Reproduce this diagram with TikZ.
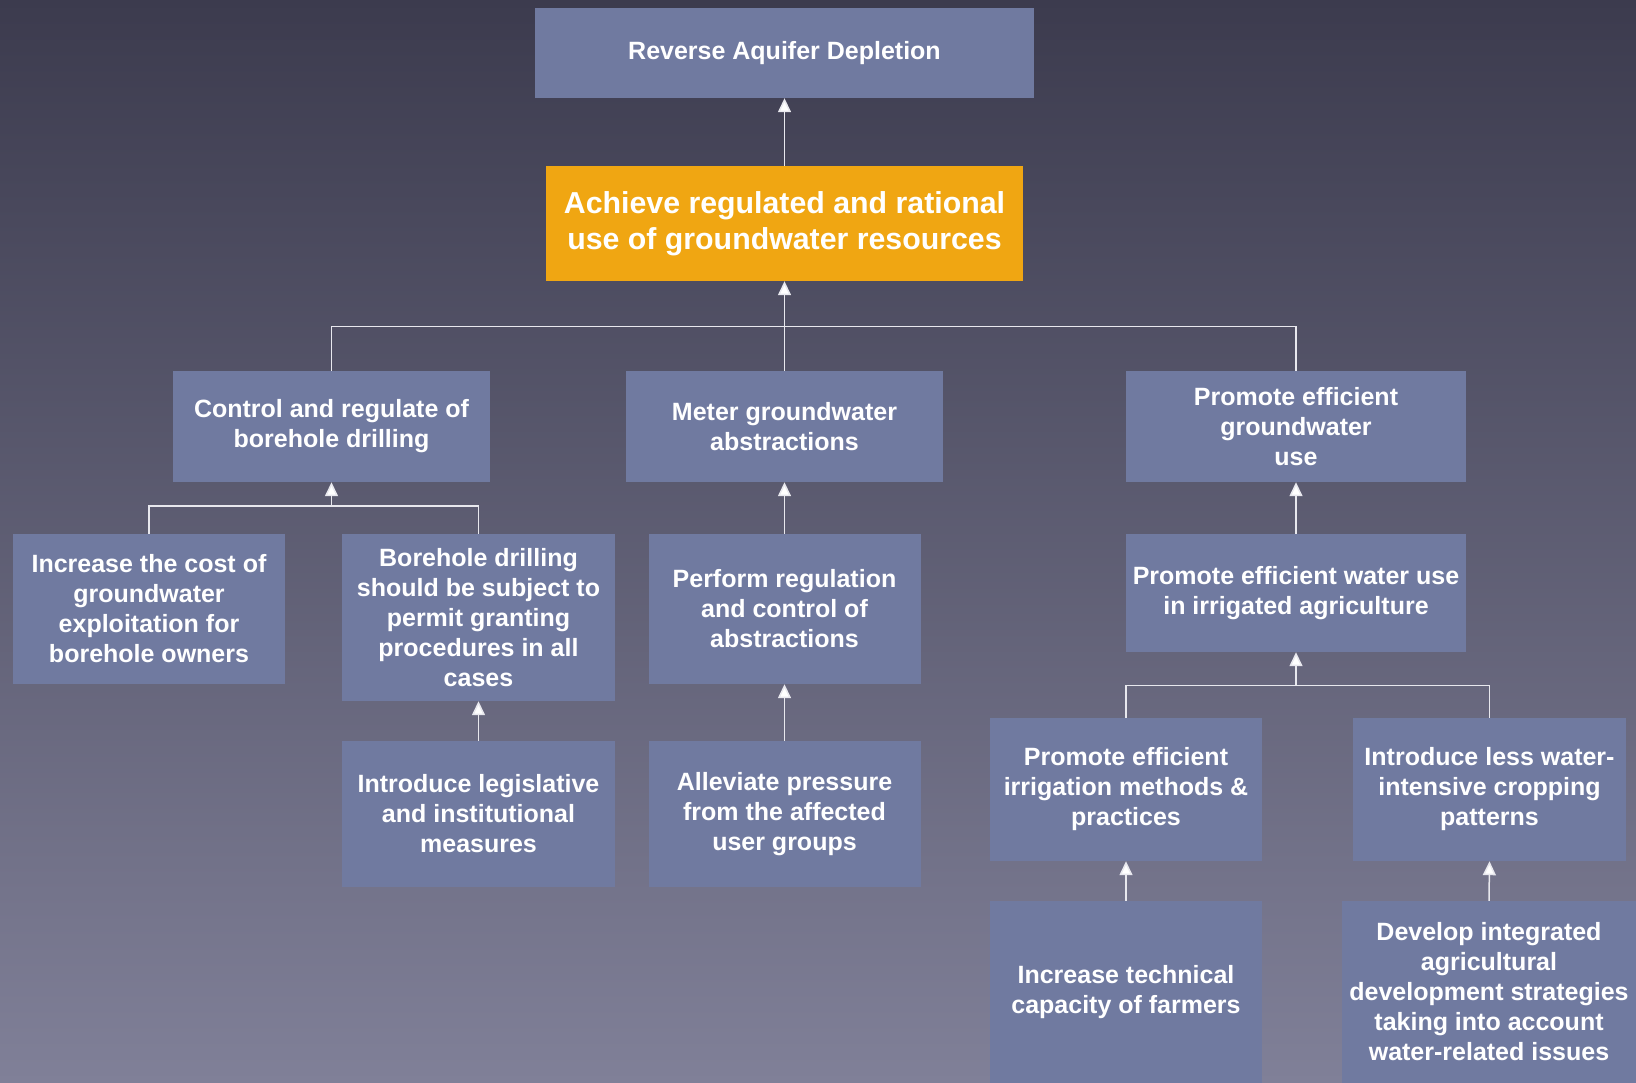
\documentclass[tikz,border=0pt]{standalone}
\usepackage{fontspec}
\setmainfont{Liberation Sans}
\usetikzlibrary{arrows.meta}
\definecolor{bgtop}{RGB}{60,59,78}
\definecolor{bgbot}{RGB}{128,128,152}
\definecolor{boxc}{RGB}{112,122,160}
\definecolor{orng}{RGB}{240,166,18}
\definecolor{linec}{RGB}{232,232,238}
\begin{document}
\begin{tikzpicture}[x=1pt,y=-1pt,
  box/.style={fill=boxc, text=white, align=center, inner sep=0pt,
    font=\bfseries\fontsize{25}{30}\selectfont},
  goal/.style={fill=orng, text=white, align=center, inner sep=0pt,
    font=\bfseries\fontsize{30.3}{36.5}\selectfont},
  conn/.style={draw=linec, line width=1.5pt},
  arr/.style={conn, -{Triangle[width=13pt,length=14pt,fill=white]}}]
\fill[top color=bgtop, bottom color=bgbot] (0,0) rectangle (1636,1083);
\useasboundingbox (0,0) rectangle (1636,1083);
% nodes
\node[box, minimum width=499pt, minimum height=90pt] (rev) at (784.5,53) {Reverse Aquifer Depletion};
\node[goal, minimum width=477pt, minimum height=115pt] (ach) at (784.5,223.5) {Achieve regulated and rational\\use of groundwater resources};
\node[box, minimum width=317pt, minimum height=111pt] (ctrl) at (331.5,426.5) {Control and regulate of\\borehole drilling};
\node[box, minimum width=317pt, minimum height=111pt] (meter) at (784.5,426.5) {Meter groundwater\\abstractions};
\node[box, minimum width=340pt, minimum height=111pt] (pgw) at (1296,426.5) {Promote efficient\\groundwater\\use};
\node[box, minimum width=272pt, minimum height=150pt] (inc) at (149,609) {Increase the cost of\\groundwater\\exploitation for\\borehole owners};
\node[box, minimum width=273pt, minimum height=167pt] (bore) at (478.5,617.5) {Borehole drilling\\should be subject to\\permit granting\\procedures in all\\cases};
\node[box, minimum width=272pt, minimum height=150pt] (perf) at (784.5,609) {Perform regulation\\and control of\\abstractions};
\node[box, minimum width=340pt, minimum height=118pt] (pwat) at (1296,593) {Promote efficient water use\\in irrigated agriculture};
\node[box, minimum width=273pt, minimum height=146pt] (legis) at (478.5,814) {Introduce legislative\\and institutional\\measures};
\node[box, minimum width=272pt, minimum height=146pt] (allev) at (784.5,814) {Alleviate pressure\\from the affected\\user groups};
\node[box, minimum width=272pt, minimum height=143pt] (pirr) at (1126,789.5) {Promote efficient\\irrigation methods \&\\practices};
\node[box, minimum width=273pt, minimum height=143pt] (iless) at (1489.5,789.5) {Introduce less water-\\intensive cropping\\patterns};
\node[box, minimum width=272pt, minimum height=182pt] (itech) at (1126,992) {Increase technical\\capacity of farmers};
\node[box, minimum width=294pt, minimum height=182pt] (dev) at (1489,992) {Develop integrated\\agricultural\\development strategies\\taking into account\\water-related issues};
% bus coordinates
\coordinate (bA) at (784.5,326.6);
\coordinate (bB) at (331.5,506);
\coordinate (bC) at (1296,685.5);
% connectors
\draw[arr] (ach.north) -- (rev.south);
\draw[conn] (ctrl.north) |- (bA) -| (pgw.north);
\draw[arr] (meter.north) -- (ach.south);
\draw[conn] (inc.north) |- (bB) -| (bore.north);
\draw[arr] (bB) -- (ctrl.south);
\draw[arr] (perf.north) -- (meter.south);
\draw[arr] (legis.north) -- (bore.south);
\draw[arr] (allev.north) -- (perf.south);
\draw[arr] (pwat.north) -- (pgw.south);
\draw[conn] (pirr.north) |- (bC) -| (iless.north);
\draw[arr] (bC) -- (pwat.south);
\draw[arr] (itech.north) -- (pirr.south);
\draw[arr] (dev.north) -- (iless.south);
\end{tikzpicture}
\end{document}
